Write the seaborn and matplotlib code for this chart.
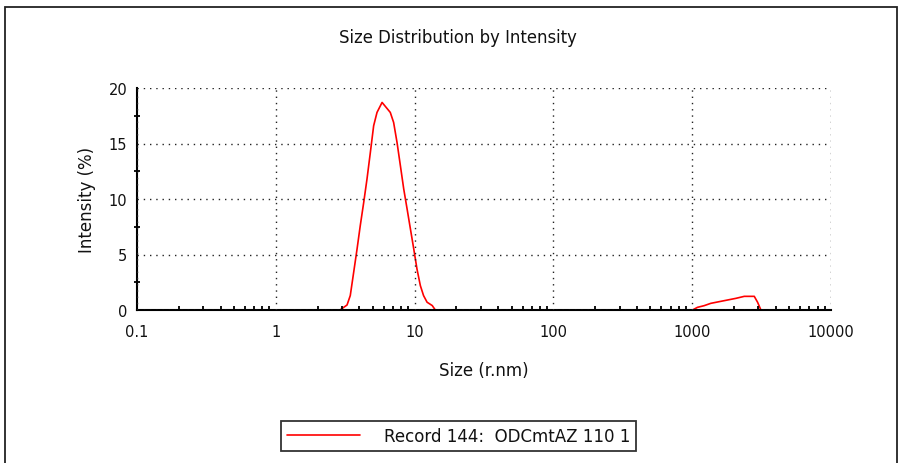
import numpy as np
import pandas as pd
import matplotlib
matplotlib.use("Agg")
import matplotlib.pyplot as plt
from matplotlib.patches import Rectangle
from matplotlib.ticker import FixedLocator, LogLocator, NullFormatter
import seaborn as sns

# ---- data ----
size_nm = [0.2, 2.9, 3.26, 3.44, 3.64, 3.85, 4.06, 4.30, 4.54, 4.80, 5.07, 5.36,
           5.83, 6.68, 7.06, 7.47, 7.90, 8.35, 8.83, 9.33, 9.86, 10.4, 11.0,
           11.6, 12.3, 13.4, 14.1, 1005, 1091, 1219, 1361, 1563, 1797, 2065,
           2372, 2800, 2958, 3126, 5000]
intensity_pct = [0.0, 0.0, 0.45, 1.3, 3.4, 5.5, 7.6, 9.7, 11.8, 14.2, 16.6, 17.8,
                 18.7, 17.8, 16.9, 15.1, 13.0, 10.9, 9.1, 7.3, 5.5, 3.7, 2.2,
                 1.3, 0.7, 0.4, 0.0, 0.0, 0.24, 0.39, 0.6, 0.75, 0.9, 1.05,
                 1.23, 1.23, 0.7, 0.0, 0.0]
series_label = "Record 144:  ODCmtAZ 110 1"
x_ticks = [0.1, 1, 10, 100, 1000, 10000]
x_ticklabels = ["0.1", "1", "10", "100", "1000", "10000"]
y_ticks = [0, 5, 10, 15, 20]

df = pd.DataFrame({"Size": size_nm, "Intensity": intensity_pct,
                   "Record": series_label})

sns.set_theme(style="white")
plt.rcParams["font.family"] = ["DejaVu Sans"]

W, H = 900, 464
fig = plt.figure(figsize=(W / 100, H / 100), dpi=100)
ax = fig.add_axes([137 / W, 1 - 311 / H, 694 / W, 222 / H])

sns.lineplot(data=df, x="Size", y="Intensity", hue="Record",
             palette=["#ff0000"], sort=False, estimator=None,
             linewidth=1.2, ax=ax, legend=False)

ax.set_xscale("log")
ax.set_xlim(0.1, 10000)
ax.set_ylim(0, 20)

ax.xaxis.set_major_locator(FixedLocator(x_ticks))
ax.set_xticklabels(x_ticklabels)
ax.xaxis.set_minor_locator(LogLocator(base=10, subs=np.arange(2, 10)))
ax.xaxis.set_minor_formatter(NullFormatter())
ax.set_yticks(y_ticks)
ax.yaxis.set_minor_locator(FixedLocator([2.5, 7.5, 12.5, 17.5]))

for s in ["top", "right"]:
    ax.spines[s].set_visible(False)
for s in ["left", "bottom"]:
    ax.spines[s].set_color("black")
    ax.spines[s].set_linewidth(1.5)

ax.tick_params(axis="y", which="major", direction="out", length=5, width=1.3,
               color="black", labelsize=10.5, pad=2, labelcolor="#111111")
ax.tick_params(axis="y", which="minor", direction="inout", length=4, width=1.3,
               color="black", left=True)
ax.tick_params(axis="x", which="major", direction="inout", length=8, width=1.3,
               color="black", labelsize=10.5, pad=6, labelcolor="#111111")
ax.tick_params(axis="x", which="minor", direction="in", length=3, width=1.3,
               color="black", bottom=True)

ax.grid(True, which="major", color="#222222", linestyle=(0, (1, 3.5)),
        linewidth=1.0)
ax.set_axisbelow(False)

ax.set_xlabel("Size (r.nm)", fontsize=12, labelpad=16, color="#111111")
ax.set_ylabel("Intensity (%)", fontsize=12, labelpad=9, color="#111111")
fig.text(458 / W, 1 - 38 / H, "Size Distribution by Intensity",
         ha="center", va="center", fontsize=11.9, color="#111111")

# outer frame
fig.patches.append(Rectangle((5 / W, -0.1), 892 / W, 1.1 - 8 / H,
                             transform=fig.transFigure, fill=False,
                             edgecolor="#222222", linewidth=1.3))

handle = ax.get_lines()[0]
leg = fig.legend([handle], [series_label], loc="upper left",
                 bbox_to_anchor=(281 / W, 1 - 422 / H), fontsize=12,
                 frameon=True, fancybox=False, handlelength=4.4,
                 handletextpad=1.4, borderpad=0.35, borderaxespad=0)
leg.get_frame().set_edgecolor("black")
leg.get_frame().set_linewidth(1.3)
for t in leg.get_texts():
    t.set_color("#111111")

fig.savefig("out.png", dpi=100)
